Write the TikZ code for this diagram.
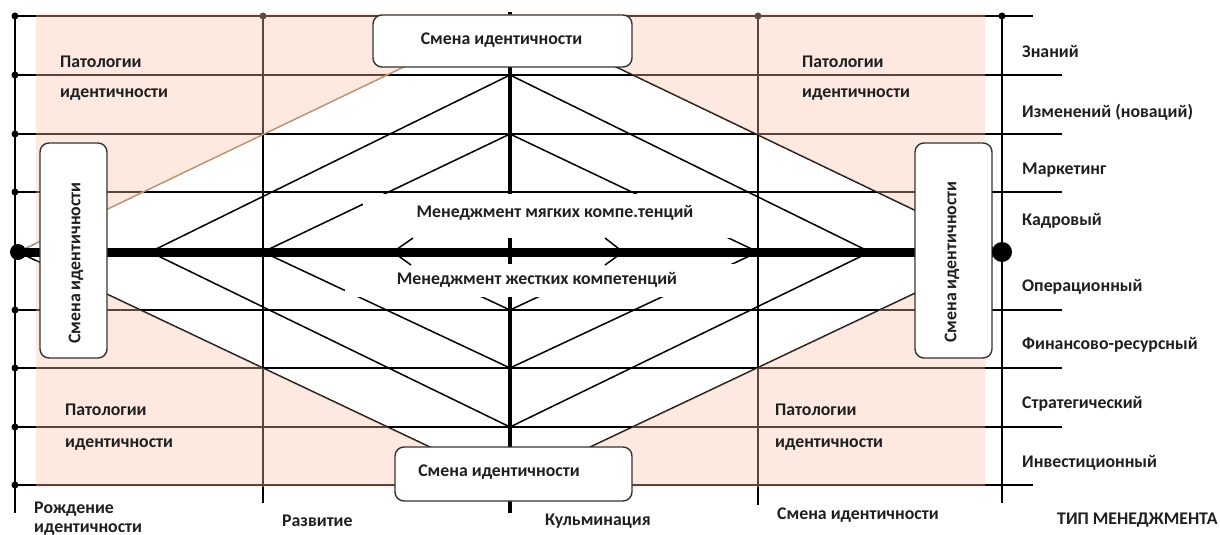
\documentclass[tikz,border=0pt]{standalone}
\usepackage{fontspec}
\setmainfont{Carlito}
\definecolor{peach}{RGB}{250,194,167}
\definecolor{edgetan}{RGB}{175,135,105}
\definecolor{dotbrown}{RGB}{95,75,60}
\begin{document}
\begin{tikzpicture}[x=1pt,y=-1pt,
  gridline/.style={line width=1.6pt, black},
  diag/.style={line width=1.5pt, black},
  axisline/.style={line width=4.5pt, black},
  mainaxis/.style={line width=9pt, black},
  idbox/.style={draw=black!80, line width=1.4pt, fill=white, rounded corners=9pt, inner sep=0pt},
  labelbg/.style={fill=white, inner sep=0pt, anchor=north west},
  lbl/.style={font=\bfseries\fontsize{17.8}{18.5}\selectfont, text=black!88, inner sep=0pt},
  lblw/.style={lbl, anchor=west},
  smalldot/.style={fill=black, inner sep=0pt, minimum size=7pt, circle},
]
\useasboundingbox (0,0) rectangle (1220,535);

% rows of the grid, each with its right-hand end
\foreach \y/\e [count=\i] in {16/1033,75/1062,134/1062,192/1062,310/1062,368/1062,427/1062,485/1033}
  \draw[gridline] (15,\y) coordinate (rowL\i) -- (\e,\y) coordinate (rowR\i);

% stage columns
\draw[gridline] (15,16) -- (15,513);
\draw[gridline] (263,16) coordinate (devTop) -- (263,503);
\draw[gridline] (758,16) coordinate (chgTop) -- (758,505);
\draw[gridline] (1002,16) coordinate (typTop) -- (1002,503);
\draw[axisline] (510,12) -- (510,513);

% nested diamonds
\coordinate (oL) at (18,252);  \coordinate (oT) at (510,16);
\coordinate (oR) at (1002,252); \coordinate (oB) at (510,485);
\coordinate (sL) at (150,252); \coordinate (sT) at (510,75);
\coordinate (sR) at (870,252); \coordinate (sB) at (510,427);
\coordinate (tL) at (263,252); \coordinate (tT) at (510,134);
\coordinate (tR) at (758,252); \coordinate (tB) at (510,368);
\coordinate (uB) at (510,310);
\coordinate (uL) at (450,282); \coordinate (uR) at (570,282);

\draw[diag] (oT) -- (oR) -- (oB) -- (oL);
\draw[diag, edgetan] (oL) -- (oT);
\draw[diag] (sL) -- (sT) -- (sR) -- (sB) -- cycle;
\draw[diag] (tL) -- (tT) -- (tR) -- (tB) -- cycle;
\draw[diag] (uL) -- (uB) -- (uR);

% main horizontal axis
\draw[mainaxis] (oL) -- (oR);

% pathology zones outside the outer diamond
\begin{scope}
  \clip (36,14) rectangle (985,487);
  \fill[peach, fill opacity=0.36, even odd rule]
    (36,14) rectangle (985,487) (oL) -- (oT) -- (oR) -- (oB) -- cycle;
\end{scope}

% competence labels on white ground
\node[labelbg, minimum width=377pt, minimum height=44.5pt] (softbg) at (363,193.5) {};
\node[labelbg, minimum width=395pt, minimum height=33pt] (hardbg) at (345,264) {};
\node[lbl] (soft) at (555,213) {Менеджмент мягких компе.тенций};
\node[lbl] (hard) at (537,280) {Менеджмент жестких компетенций};

% open arrow heads on the axis
\coordinate (aL) at (393,252); \coordinate (aR) at (623,252);
\draw[diag] (413,238) -- (aL) -- (411,265);
\draw[diag] (605,238) -- (aR) -- (605,265);

% identity change boxes
\node[idbox, minimum width=259pt, minimum height=52pt] (boxTop) at (502.5,41) {};
\node[idbox, minimum width=237pt, minimum height=54pt] (boxBot) at (513.5,474) {};
\node[idbox, minimum width=67pt, minimum height=215pt] (boxLeft) at (73.5,250.5) {};
\node[idbox, minimum width=77pt, minimum height=215pt] (boxRight) at (953.5,250.5) {};
\node[lbl] (tTop) at (501.5,40) {Смена идентичности};
\node[lbl] (tBot) at (499,472) {Смена идентичности};
\node[lbl, rotate=90] (tLeft) at (76,263) {Смена идентичности};
\node[lbl, rotate=90] (tRight) at (952,262) {Смена идентичности};

% dots
\foreach \i in {1,...,8} \node[smalldot] (dotL\i) at (rowL\i) {};
\node[smalldot, fill=dotbrown] (dotDev) at (devTop) {};
\node[smalldot, fill=dotbrown] (dotChg) at (chgTop) {};
\node[smalldot] (dotTyp) at (typTop) {};
\node[circle, fill=black, inner sep=0pt, minimum size=16pt] (bigL) at (oL) {};
\node[circle, fill=black, inner sep=0pt, minimum size=20pt] (bigR) at (oR) {};

% pathology labels
\node[lblw] (p1a) at (60,62) {Патологии};
\node[lblw] (p1b) at (60,95) {идентичности};
\node[lblw] (p2a) at (802,62) {Патологии};
\node[lblw] (p2b) at (802,95) {идентичности};
\node[lblw] (p3a) at (65,410) {Патологии};
\node[lblw] (p3b) at (65,445) {идентичности};
\node[lblw] (p4a) at (775,410) {Патологии};
\node[lblw] (p4b) at (775,445) {идентичности};

% management types
\node[lblw] (m1) at (1022,51) {Знаний};
\node[lblw] (m2) at (1022,112) {Изменений (новаций)};
\node[lblw] (m3) at (1022,170) {Маркетинг};
\node[lblw] (m4) at (1022,221) {Кадровый};
\node[lblw] (m5) at (1022,287) {Операционный};
\node[lblw] (m6) at (1022,345) {Финансово-ресурсный};
\node[lblw] (m7) at (1022,404) {Стратегический};
\node[lblw] (m8) at (1022,463) {Инвестиционный};
\node[lblw] (mt) at (1057,520) {ТИП МЕНЕДЖМЕНТА};

% stages
\node[lbl, align=left, anchor=north west] (s1) at (34,502) {Рождение\\идентичности};
\node[lblw] (s2) at (282,521) {Развитие};
\node[lblw] (s3) at (545,521) {Кульминация};
\node[lblw] (s4) at (777,515) {Смена идентичности};
\end{tikzpicture}
\end{document}
